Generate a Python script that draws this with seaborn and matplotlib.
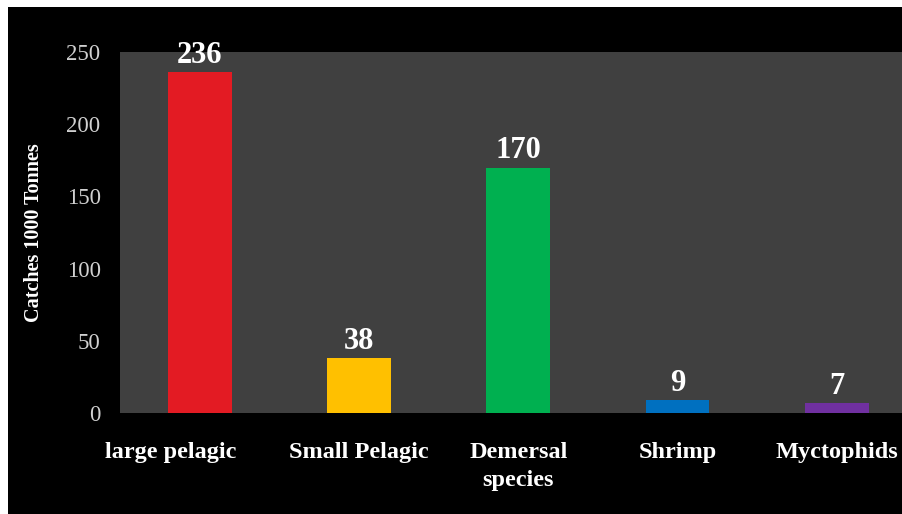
import matplotlib
matplotlib.use("Agg")
import matplotlib.pyplot as plt
import matplotlib.transforms as mtransforms
import seaborn as sns
import pandas as pd

categories = ["large pelagic", "Small Pelagic", "Demersal\nspecies", "Shrimp", "Myctophids"]
values = [236, 38, 170, 9, 7]
colors = ["#E31B23", "#FFC000", "#00B050", "#0070C0", "#7030A0"]
yticks = [0, 50, 100, 150, 200, 250]

df = pd.DataFrame({"cat": categories, "val": values})

sns.set_theme(style="white")
plt.rcParams["font.family"] = ["Liberation Serif", "DejaVu Serif"]

fig = plt.figure(figsize=(9.03, 5.14), dpi=100, facecolor="white")
bg = fig.add_axes([8 / 903, 0, 1 - 8 / 903, (514 - 7) / 514], zorder=-5)
bg.set_facecolor("black")
bg.set_xticks([])
bg.set_yticks([])
for s in bg.spines.values():
    s.set_visible(False)

ax = fig.add_axes([120 / 903, (514 - 413) / 514, 1 - 120 / 903, (413 - 52) / 514], zorder=1)
ax.set_facecolor("#404040")

sns.barplot(data=df, x="cat", y="val", hue="cat", palette=colors, legend=False,
            width=0.4, ax=ax, saturation=1, linewidth=0, edgecolor="none")

ax.set_ylim(0, 250)
ax.set_xlim(-0.5, 4.415)
ax.set_yticks(yticks)
ax.set_yticklabels([str(t) for t in yticks], color="#D0D0D0", fontsize=16.5)
ax.tick_params(axis="y", length=0, pad=14)
ax.tick_params(axis="x", length=0, pad=21)
for k, lab in enumerate(ax.get_xticklabels()):
    lab.set_color("white")
    lab.set_fontweight("bold")
    lab.set_fontsize(17.5)
    lab.set_linespacing(1.4)
    lab.set_verticalalignment("top")
    if k == 0:
        lab.set_transform(lab.get_transform() +
                          mtransforms.ScaledTranslation(-0.29, 0, fig.dpi_scale_trans))

for i, v in enumerate(values):
    ax.text(i, v + 1.5, str(v), ha="center", va="bottom", color="white",
            fontsize=22, fontweight="bold")

for s in ax.spines.values():
    s.set_visible(False)

ax.set_xlabel("")
ax.set_ylabel("Catches 1000 Tonnes", color="white", fontsize=14.5, fontweight="bold", labelpad=16)

fig.savefig("out.png", dpi=100, facecolor=fig.get_facecolor())
